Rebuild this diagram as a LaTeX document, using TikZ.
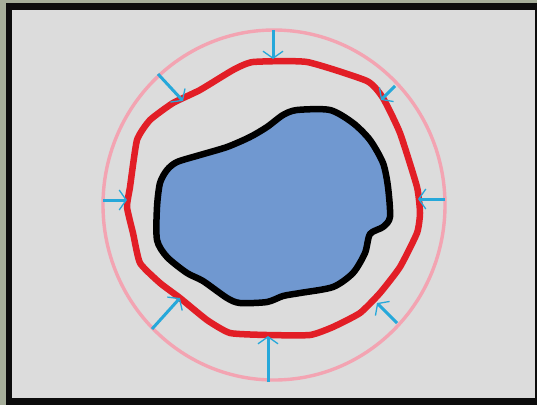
\documentclass[tikz,border=0pt]{standalone}
\usetikzlibrary{arrows.meta}

\definecolor{frameout}{RGB}{166,174,154}
\definecolor{frameblack}{RGB}{12,12,12}
\definecolor{panel}{RGB}{220,220,220}
\definecolor{ringpink}{RGB}{243,164,178}
\definecolor{contred}{RGB}{226,30,38}
\definecolor{blobblue}{RGB}{112,152,208}
\definecolor{pushcyan}{RGB}{38,168,218}

\begin{document}
\begin{tikzpicture}[
  x=1pt, y=-1pt,
  ring/.style={draw=ringpink, line width=3.4pt},
  contour/.style={draw=contred, line width=6.5pt, line join=round},
  blob/.style={draw=black, fill=blobblue, line width=6.5pt, line join=round},
  push/.style={draw=pushcyan, line width=3pt,
    -{Straight Barb[length=7pt, width=20pt, line width=1.3pt]}}
]
\useasboundingbox (0,0) rectangle (537,405);

% Frame and panel.
\fill[frameout] (0,0) rectangle (537,405);
\fill[frameblack] (6,3) rectangle (537,405);
\fill[panel] (12,10) rectangle (535,398);

% Outer initial circle.
\draw[ring] (274,205) ellipse [x radius=171, y radius=175];

% Inner object, filled.
\draw[blob] plot[smooth cycle, tension=0.45] coordinates {
  (297,110) (330,110) (353,123) (370,140) (383,163) (388,187)
  (390,217) (383,227) (370,234) (365,253) (353,273) (333,287)
  (300,293) (283,296) (267,302) (240,303) (227,298) (203,281)
  (187,273) (167,257) (157,240) (157,207) (160,183) (167,170)
  (177,162) (200,155) (227,147) (250,137) (267,127) (283,115)};

% Shrinking active contour.
\draw[contour] plot[smooth cycle, tension=0.3] coordinates {
  (253,62) (307,62) (367,81) (383,98) (400,133) (417,187)
  (420,213) (417,233) (400,267) (380,293) (360,313) (333,327)
  (310,335) (267,335) (230,333) (207,320) (180,298) (160,283)
  (140,263) (133,233) (127,207) (130,187) (137,140) (150,120)
  (173,103) (200,90) (233,70)};

% Inward forces on the contour.
\coordinate (fN) at (273,30);  \coordinate (tN) at (273,59);
\coordinate (fNW) at (158,74); \coordinate (tNW) at (183,101);
\coordinate (fNE) at (395,86); \coordinate (tNE) at (381,100);
\coordinate (fW) at (103,200); \coordinate (tW) at (127,200);
\coordinate (fE) at (445,199); \coordinate (tE) at (418,199);
\coordinate (fSW) at (152,329); \coordinate (tSW) at (180,298);
\coordinate (fS) at (268,382); \coordinate (tS) at (268,336);
\coordinate (fSE) at (397,323); \coordinate (tSE) at (377,303);
\foreach \d in {N,NW,NE,W,E,SW,S,SE}
  \draw[push] (f\d) -- (t\d);

\end{tikzpicture}
\end{document}
